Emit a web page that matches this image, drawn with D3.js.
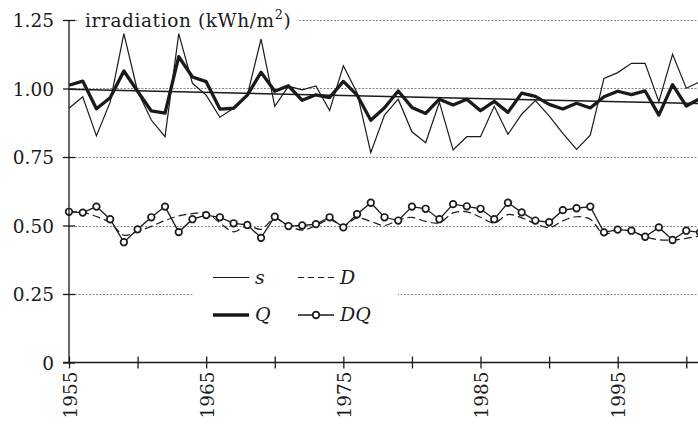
<!DOCTYPE html>
<html lang="en">
<head>
  <title>Irradiation</title>
  <meta charset="UTF-8">
  <style>
    body { margin: 0; background: #fff; }
    svg { display: block; font-family: "DejaVu Serif", serif; }
  </style>
  <script src="https://cdn.jsdelivr.net/npm/d3@7/dist/d3.min.js"></script>
</head>
<body>
<script>
  var years = d3.range(1955, 2002);

  var sVals = [0.928, 0.970, 0.827, 0.950, 1.200, 0.990, 0.885, 0.824, 1.200, 1.019,
               0.976, 0.895, 0.928, 0.976, 1.180, 0.935, 1.008, 0.995, 1.009, 0.920,
               1.083, 0.985, 0.766, 0.903, 0.961, 0.842, 0.802, 0.950, 0.776, 0.824,
               0.824, 0.935, 0.833, 0.906, 0.956, 0.900, 0.836, 0.778, 0.830, 1.037,
               1.058, 1.092, 1.092, 0.952, 1.125, 1.001, 1.025];

  var qVals = [1.012, 1.027, 0.926, 0.966, 1.064, 0.990, 0.918, 0.910, 1.116, 1.042,
               1.025, 0.925, 0.928, 0.976, 1.059, 0.990, 1.010, 0.957, 0.977, 0.967,
               1.026, 0.976, 0.884, 0.930, 0.991, 0.931, 0.909, 0.961, 0.940, 0.961,
               0.919, 0.953, 0.913, 0.983, 0.971, 0.942, 0.925, 0.946, 0.929, 0.970,
               0.990, 0.978, 0.991, 0.903, 1.014, 0.936, 0.963];

  var dVals = [0.550, 0.548, 0.533, 0.510, 0.465, 0.478, 0.497, 0.518, 0.535, 0.543,
               0.546, 0.510, 0.477, 0.500, 0.486, 0.525, 0.500, 0.483, 0.500, 0.520,
               0.500, 0.528, 0.515, 0.500, 0.520, 0.530, 0.515, 0.510, 0.546, 0.550,
               0.530, 0.509, 0.540, 0.528, 0.507, 0.492, 0.517, 0.532, 0.523, 0.468,
               0.484, 0.478, 0.459, 0.448, 0.447, 0.453, 0.462];

  var dqVals = [0.550, 0.547, 0.569, 0.523, 0.439, 0.486, 0.530, 0.569, 0.476, 0.523,
                0.538, 0.530, 0.508, 0.502, 0.455, 0.532, 0.498, 0.500, 0.505, 0.530,
                0.493, 0.541, 0.583, 0.530, 0.518, 0.569, 0.561, 0.523, 0.578, 0.570,
                0.561, 0.523, 0.583, 0.548, 0.518, 0.512, 0.556, 0.563, 0.569, 0.475,
                0.485, 0.481, 0.459, 0.493, 0.447, 0.481, 0.475];

  // straight trend through Q (end points)
  var trendYears = [1955, 2001];
  var trendVals = [0.997, 0.945];

  var yTicks = [0, 0.25, 0.5, 0.75, 1.0, 1.25];
  var xTicks = d3.range(1955, 2001, 5);
  var xLabels = [1955, 1965, 1975, 1985, 1995];

  var W = 698, H = 426;
  var ink = "#1a1a1a";

  var x = d3.scaleLinear().domain([1955, 2001]).range([69, 700]);
  var y = d3.scaleLinear().domain([0, 1.25]).range([362.5, 20]);

  var svg = d3.select("body").append("svg").attr("width", W).attr("height", H);

  // gridlines
  var grid = svg.append("g");
  yTicks.filter(function(t) { return t > 0; }).forEach(function(t) {
    grid.append("line")
      .attr("x1", x(1955) + 6).attr("x2", W)
      .attr("y1", Math.round(y(t)) + 0.5).attr("y2", Math.round(y(t)) + 0.5)
      .attr("stroke", "#666").attr("stroke-width", 0.8)
      .attr("stroke-dasharray", "2,1.5");
  });

  // data lines
  function pts(vals) { return vals.map(function(v, i) { return [years[i], v]; }); }
  var line = d3.line().x(function(d) { return x(d[0]); }).y(function(d) { return y(d[1]); });
  var smooth = d3.line().curve(d3.curveCatmullRom.alpha(0.5))
    .x(function(d) { return x(d[0]); }).y(function(d) { return y(d[1]); });

  var plot = svg.append("g");

  plot.append("path").datum(pts(sVals)).attr("d", line)
    .attr("fill", "none").attr("stroke", ink).attr("stroke-width", 1.2);

  plot.append("path").datum(trendYears.map(function(t, i) { return [t, trendVals[i]]; }))
    .attr("d", line).attr("fill", "none").attr("stroke", ink).attr("stroke-width", 1.5);

  plot.append("path").datum(pts(qVals)).attr("d", line)
    .attr("fill", "none").attr("stroke", ink).attr("stroke-width", 3.3)
    .attr("stroke-linejoin", "round");

  plot.append("path").datum(pts(dVals)).attr("d", smooth)
    .attr("fill", "none").attr("stroke", ink).attr("stroke-width", 1.2)
    .attr("stroke-dasharray", "8,4");

  plot.append("path").datum(pts(dqVals)).attr("d", line)
    .attr("fill", "none").attr("stroke", ink).attr("stroke-width", 1.3);

  plot.selectAll("circle.dq").data(pts(dqVals)).enter().append("circle")
    .attr("class", "dq")
    .attr("cx", function(d) { return x(d[0]); })
    .attr("cy", function(d) { return y(d[1]); })
    .attr("r", 3.3)
    .attr("fill", "#fff").attr("stroke", ink).attr("stroke-width", 1.7);

  // legend
  var lg = svg.append("g");
  lg.append("rect").attr("x", 193).attr("y", 258).attr("width", 205).attr("height", 76).attr("fill", "#fff");
  var items = [
    { label: "s", col: 0, row: 0 },
    { label: "D", col: 1, row: 0 },
    { label: "Q", col: 0, row: 1 },
    { label: "DQ", col: 1, row: 1 }
  ];
  items.forEach(function(it) {
    var lx = 213 + it.col * 85, ly = 277.5 + it.row * 37.5;
    var l = lg.append("line").attr("x1", lx).attr("x2", lx + 36).attr("y1", ly).attr("y2", ly)
      .attr("stroke", ink);
    if (it.label === "s") l.attr("stroke-width", 1.2);
    if (it.label === "D") l.attr("stroke-width", 1.2).attr("stroke-dasharray", "6,4");
    if (it.label === "Q") l.attr("stroke-width", 3.4);
    if (it.label === "DQ") {
      l.attr("stroke-width", 1.3);
      lg.append("circle").attr("cx", lx + 18).attr("cy", ly).attr("r", 3.3)
        .attr("fill", "#fff").attr("stroke", ink).attr("stroke-width", 1.7);
    }
    lg.append("text").attr("x", lx + 42).attr("y", ly + 6)
      .attr("font-style", "italic").attr("font-size", 19).attr("fill", ink)
      .text(it.label);
  });

  // y axis
  var yAxis = svg.append("g").attr("transform", "translate(" + x(1955) + ",0)")
    .call(d3.axisLeft(y).tickValues(yTicks).tickSize(6).tickPadding(10)
      .tickFormat(function(d) { return d === 0 ? "0" : d3.format(".2f")(d); }));
  yAxis.select(".domain").remove();
  yAxis.append("line").attr("x1", 0).attr("x2", 0).attr("y1", y(1.25)).attr("y2", y(0))
    .attr("stroke", ink).attr("stroke-width", 1.3);
  yAxis.selectAll(".tick line").attr("x2", 6).attr("x1", -6).attr("stroke", ink).attr("stroke-width", 1.3);
  yAxis.selectAll(".tick text").attr("font-size", 18.5).attr("font-family", "DejaVu Serif")
    .attr("fill", ink).attr("dy", "0.36em").attr("x", -15);

  // x axis
  var xAxis = svg.append("g").attr("transform", "translate(0," + y(0) + ")")
    .call(d3.axisBottom(x).tickValues(xTicks).tickSize(6)
      .tickFormat(function(d) { return xLabels.indexOf(d) >= 0 ? d : ""; }));
  xAxis.select(".domain").remove();
  xAxis.append("line").attr("x1", x(1955) - 6).attr("x2", W).attr("y1", 0).attr("y2", 0)
    .attr("stroke", ink).attr("stroke-width", 1.3);
  xAxis.selectAll(".tick line").attr("y1", -6).attr("y2", 6).attr("stroke", ink).attr("stroke-width", 1.3);
  xAxis.selectAll(".tick text")
    .attr("font-size", 18.5).attr("font-family", "DejaVu Serif").attr("fill", ink)
    .attr("text-anchor", "end").attr("dy", null)
    .attr("transform", "translate(7,9) rotate(-90)")
    .attr("x", 0).attr("y", 0);

  // title with white backing
  var title = svg.append("text").attr("x", 85).attr("y", 27)
    .attr("font-size", 18.5).attr("letter-spacing", 0.6).attr("fill", ink);
  title.append("tspan").text("irradiation (kWh/m");
  title.append("tspan").attr("dy", -8).attr("font-size", 13).text("2");
  title.append("tspan").attr("dy", 8).text(")");
  var bb = title.node().getBBox();
  svg.insert("rect", function() { return title.node(); })
    .attr("x", bb.x - 6).attr("y", bb.y).attr("width", bb.width + 14)
    .attr("height", bb.height).attr("fill", "#fff");
</script>
</body>
</html>
